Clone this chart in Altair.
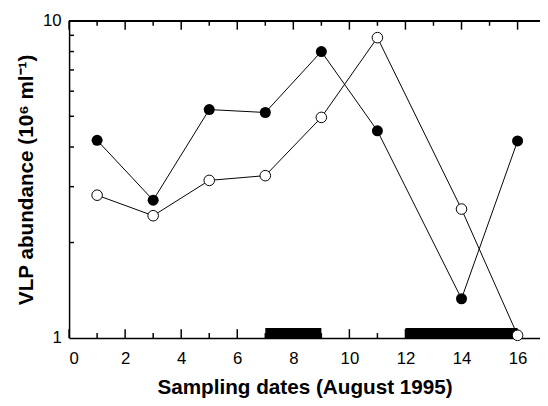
import altair as alt
import pandas as pd

days = [1, 3, 5, 7, 9, 11, 14, 16]
filled = [4.2, 2.72, 5.25, 5.14, 8.0, 4.5, 1.33, 4.18]
open_ = [2.82, 2.43, 3.14, 3.25, 4.96, 8.85, 2.55, 1.02]
bar_start = [7, 12]
bar_end = [9, 16]
bar_low = [1.0, 1.0]
bar_high = [1.075, 1.075]

x_major = [0, 2, 4, 6, 8, 10, 12, 14, 16]
x_minor = [1, 3, 5, 7, 9, 11, 13, 15]
y_labels = [1, 10]
y_ticks = [2, 3, 4, 5, 6, 7, 8, 9]

W, H = 478, 322
FONT = "Liberation Sans"

df_f = pd.DataFrame({"day": days, "v": filled})
df_o = pd.DataFrame({"day": days, "v": open_})
df_b = pd.DataFrame({"s": bar_start, "e": bar_end, "lo": bar_low, "hi": bar_high})
df_xmaj = pd.DataFrame({"t": x_major})
df_xmin = pd.DataFrame({"t": x_minor})
df_yt = pd.DataFrame({"t": y_ticks})

xs = alt.Scale(domain=[0, 16.8], nice=False, zero=False)
ys = alt.Scale(type="log", domain=[1, 10], nice=False)

AX_X = alt.Axis(orient="bottom", values=x_major, ticks=False, grid=False, domain=True,
                domainColor="black", domainWidth=1.5, labelFont=FONT, labelFontSize=17,
                labelColor="black", labelPadding=13, title="Sampling dates (August 1995)",
                titleFont=FONT, titleFontSize=21, titleFontWeight="bold", titleColor="black",
                titlePadding=10)
AX_Y = alt.Axis(orient="left", values=y_labels, format="d", ticks=False, grid=False, domain=True,
                domainColor="black", domainWidth=1.5, labelFont=FONT, labelFontSize=17,
                labelColor="black", labelPadding=8, title="VLP abundance (10⁶ ml⁻¹)",
                titleFont=FONT, titleFontSize=21, titleFontWeight="bold", titleColor="black",
                titlePadding=6)

X = lambda f: alt.X(f, scale=xs, axis=AX_X)
Y = lambda f: alt.Y(f, scale=ys, axis=AX_Y)

bars = alt.Chart(df_b).mark_rect(color="black").encode(
    x=X("s:Q"), x2="e:Q", y=Y("lo:Q"), y2="hi:Q",
)
top_frame = alt.Chart(df_xmaj).mark_rule(color="black", strokeWidth=1.5).encode(
    x=alt.value(0), x2=alt.value(W), y=alt.value(0),
)
top_major = alt.Chart(df_xmaj).mark_rule(color="black", strokeWidth=1.5).encode(
    x=X("t:Q"), y=alt.value(0), y2=alt.value(9),
)
top_minor = alt.Chart(df_xmin).mark_rule(color="black", strokeWidth=1.5).encode(
    x=X("t:Q"), y=alt.value(0), y2=alt.value(5),
)
bot_major = alt.Chart(df_xmaj).mark_rule(color="black", strokeWidth=1.5).encode(
    x=X("t:Q"), y=alt.value(H), y2=alt.value(H - 9),
)
bot_minor = alt.Chart(df_xmin).mark_rule(color="black", strokeWidth=1.5).encode(
    x=X("t:Q"), y=alt.value(H), y2=alt.value(H - 5),
)
left_ticks = alt.Chart(df_yt).mark_rule(color="black", strokeWidth=1.5).encode(
    y=Y("t:Q"), x=alt.value(0), x2=alt.value(5),
)

line_f = alt.Chart(df_f).mark_line(color="black", strokeWidth=1).encode(x=X("day:Q"), y=Y("v:Q"))
line_o = alt.Chart(df_o).mark_line(color="black", strokeWidth=1).encode(x=X("day:Q"), y=Y("v:Q"))
pts_f = alt.Chart(df_f).mark_point(shape="circle", filled=True, color="black", size=125,
                                   opacity=1).encode(x=X("day:Q"), y=Y("v:Q"))
pts_o = alt.Chart(df_o).mark_point(shape="circle", filled=True, fill="white", stroke="black",
                                   strokeWidth=1, size=115, opacity=1).encode(x=X("day:Q"), y=Y("v:Q"))

chart = alt.layer(bars, top_frame, top_major, top_minor, bot_major, bot_minor, left_ticks,
                  line_f, line_o, pts_f, pts_o).properties(
    width=W, height=H, autosize=alt.AutoSizeParams(type="none"),
    padding={"left": 62, "top": 10, "right": 0, "bottom": 66},
).configure_view(stroke=None)

chart.save("out.html", embed_options={"renderer": "svg", "actions": False})
